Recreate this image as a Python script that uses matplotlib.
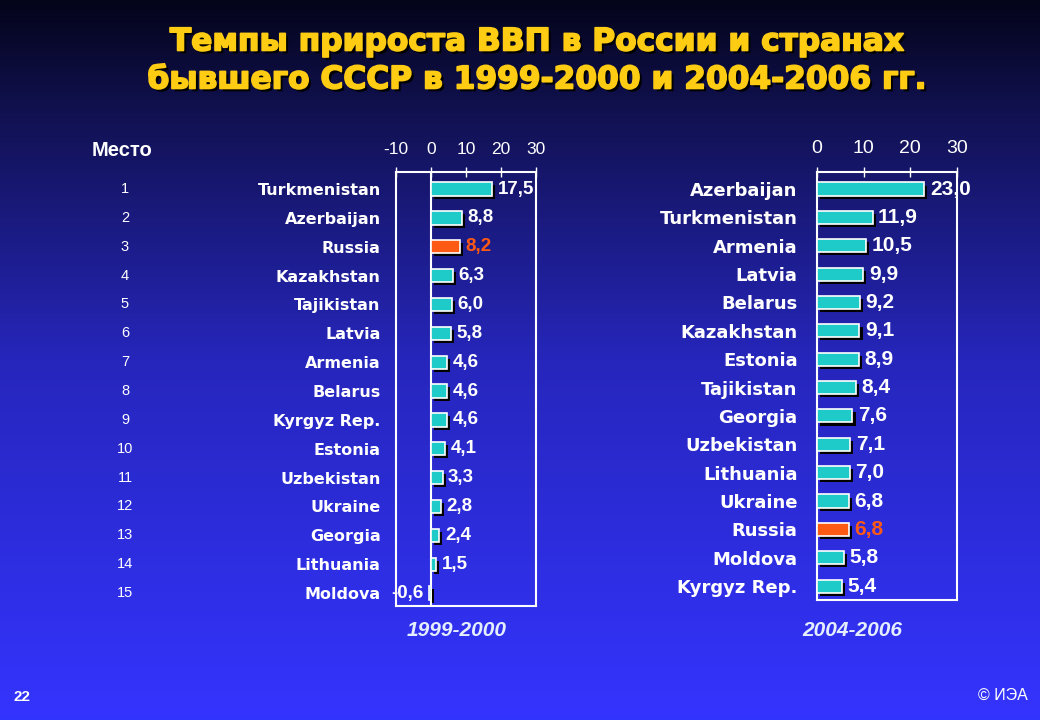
import numpy as np
import matplotlib
matplotlib.use("Agg")
import matplotlib.pyplot as plt
import matplotlib.patheffects as pe
from matplotlib.colors import LinearSegmentedColormap
from matplotlib.transforms import blended_transform_factory

plt.rcParams['font.family'] = ['DejaVu Sans']

# data
ranks = list(range(1, 16))

countries_a = ['Turkmenistan', 'Azerbaijan', 'Russia', 'Kazakhstan', 'Tajikistan',
               'Latvia', 'Armenia', 'Belarus', 'Kyrgyz Rep.', 'Estonia',
               'Uzbekistan', 'Ukraine', 'Georgia', 'Lithuania', 'Moldova']
values_a = [17.5, 8.8, 8.2, 6.3, 6.0, 5.8, 4.6, 4.6, 4.6, 4.1, 3.3, 2.8, 2.4, 1.5, -0.6]

countries_b = ['Azerbaijan', 'Turkmenistan', 'Armenia', 'Latvia', 'Belarus',
               'Kazakhstan', 'Estonia', 'Tajikistan', 'Georgia', 'Uzbekistan',
               'Lithuania', 'Ukraine', 'Russia', 'Moldova', 'Kyrgyz Rep.']
values_b = [23.0, 11.9, 10.5, 9.9, 9.2, 9.1, 8.9, 8.4, 7.6, 7.1, 7.0, 6.8, 6.8, 5.8, 5.4]

ticks_a = [-10, 0, 10, 20, 30]
ticks_b = [0, 10, 20, 30]

CYAN = '#1ecbc8'
ORANGE = '#ff5a14'
GOLD = '#ffcc14'
W, H = 1040, 720


def fmt(v):
    return f'{v:.1f}'.replace('.', ',')


fig = plt.figure(figsize=(10.4, 7.2), dpi=100)

# background gradient
bg = fig.add_axes([0, 0, 1, 1])
cmap = LinearSegmentedColormap.from_list('bg', [(0, '#04041a'), (0.14, '#10104c'),
                                                 (0.5, '#2626bc'), (1.0, '#3434ff')])
bg.imshow(np.linspace(0, 1, 256).reshape(-1, 1), aspect='auto', cmap=cmap,
          extent=[0, 1, 0, 1], origin='upper')
bg.set_axis_off()

title_fx = [pe.SimplePatchShadow(offset=(2, -2), shadow_rgbFace='black', alpha=1),
            pe.Stroke(linewidth=1.2, foreground=GOLD), pe.Normal()]
fig.text(537 / W, 1 - 42 / H, 'Темпы прироста ВВП в России и странах', ha='center', va='center',
         fontsize=22.5, fontweight='bold', color=GOLD, path_effects=title_fx)
fig.text(537 / W, 1 - 80 / H, 'бывшего СССР в 1999-2000 и 2004-2006 гг.', ha='center', va='center',
         fontsize=22.5, fontweight='bold', color=GOLD, path_effects=title_fx)

fig.text(122 / W, 1 - 151 / H, 'Место', ha='center', va='center', fontsize=14.5,
         fontweight='bold', color='white', family='Liberation Sans')


def panel(rect, countries, values, ticks, xlim, ylim, label_size, value_size, tick_size, pad):
    ax = fig.add_axes(rect)
    ax.set_facecolor('none')
    y = np.arange(len(values))
    colors = [ORANGE if c == 'Russia' else CYAN for c in countries]
    bars = ax.barh(y, values, height=0.46, color=colors, edgecolor='white', linewidth=1.2, zorder=3)
    for b in bars:
        b.set_path_effects([pe.SimplePatchShadow(offset=(2.2, -2.2), shadow_rgbFace='black', alpha=1),
                            pe.Normal()])
    ax.set_xlim(*xlim)
    ax.set_ylim(*ylim)
    ax.set_yticks(y)
    ax.set_yticklabels(countries, fontsize=label_size, fontweight='bold', color='white')
    ax.tick_params(axis='y', length=0, pad=pad)
    ax.xaxis.tick_top()
    ax.set_xticks(ticks)
    ax.set_xticklabels([str(t) for t in ticks], fontsize=tick_size, color='white',
                       family='Liberation Sans')
    ax.tick_params(axis='x', direction='inout', length=7, width=1, color='white', pad=7)
    for s in ax.spines.values():
        s.set_color('white')
        s.set_linewidth(1.5)
    for yi, v, c in zip(y, values, countries):
        col = ORANGE if c == 'Russia' else 'white'
        if v >= 0:
            ax.annotate(fmt(v), (v, yi), xytext=(4, 0), textcoords='offset points', ha='left',
                        va='center', fontsize=value_size, fontweight='bold', color=col,
                        family='Liberation Sans')
        else:
            ax.annotate(fmt(v), (v, yi), xytext=(-4, 0), textcoords='offset points', ha='right',
                        va='center', fontsize=value_size, fontweight='bold', color=col,
                        family='Liberation Sans')
    return ax


ax1 = panel([396 / W, 1 - 606 / H, 140 / W, 434 / H], countries_a, values_a, ticks_a,
            (-10, 30), (14.45, -0.59), 11.5, 13.5, 12.5, 11)
ax1.axvline(0, color='white', lw=1.5, zorder=2)

ax2 = panel([817 / W, 1 - 600 / H, 140 / W, 428 / H], countries_b, values_b, ticks_b,
            (0, 30), (14.49, -0.6), 13, 15, 14, 14)

period_kw = dict(ha='center', va='center', fontsize=15, fontweight='bold', style='italic',
                 color='#e4eeff', family='Liberation Sans')
fig.text(457 / W, 1 - 630 / H, '1999-2000', **period_kw)
fig.text(852 / W, 1 - 630 / H, '2004-2006', **period_kw)

# rank numbers
tr = blended_transform_factory(fig.transFigure, ax1.transData)
for i, r in enumerate(ranks):
    ax1.text(125 / W, i, str(r), transform=tr, ha='center', va='center', fontsize=10.5,
             color='white', clip_on=False, family='Liberation Sans')

fig.text(22 / W, 1 - 697 / H, '22', ha='center', va='center', fontsize=11,
         fontweight='bold', color='white', family='Liberation Sans')
fig.text(1003 / W, 1 - 695 / H, '© ИЭА', ha='center', va='center', fontsize=11.5,
         color='white', family='Liberation Sans')

fig.savefig('out.png', dpi=100)
